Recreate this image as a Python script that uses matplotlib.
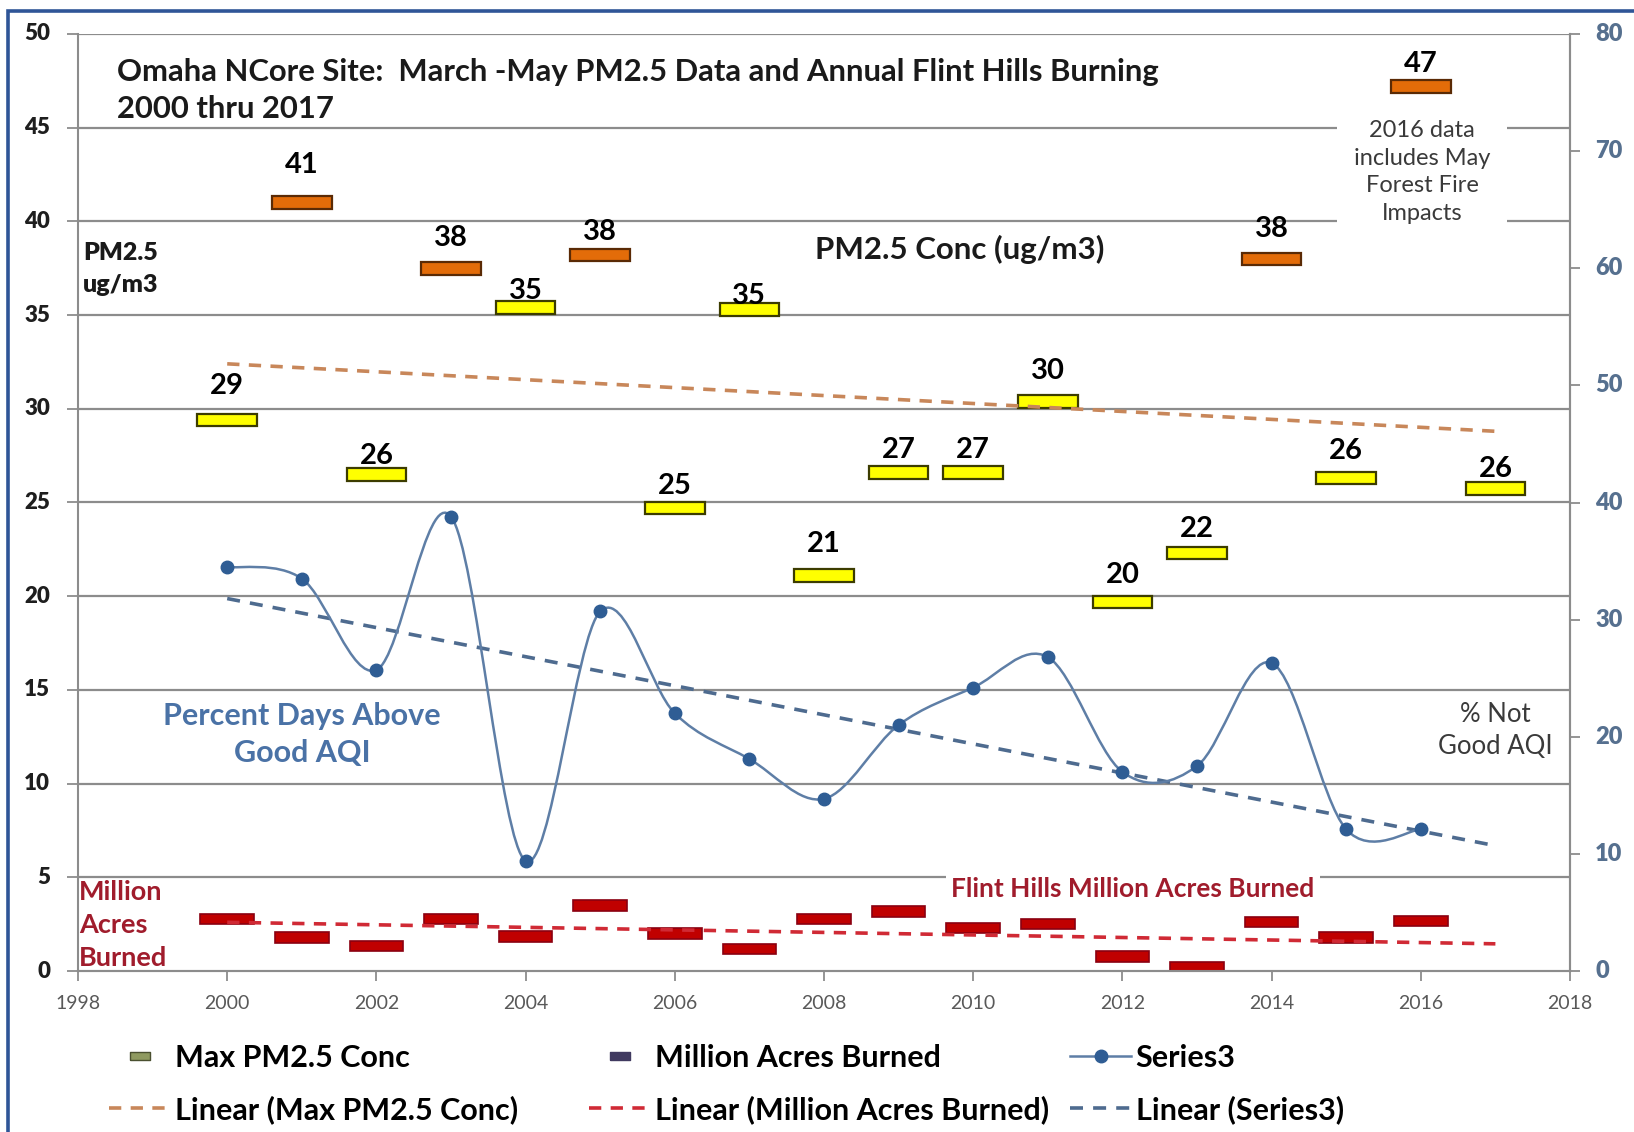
import numpy as np
import matplotlib
matplotlib.use("Agg")
import matplotlib.pyplot as plt
from matplotlib.path import Path
from matplotlib.patches import PathPatch, Rectangle
from matplotlib.lines import Line2D

plt.rcParams['font.family'] = ['Lato', 'DejaVu Sans']

# ---------------- data ----------------
years = list(range(2000, 2018))
max_pm25 = [29.4, 41.0, 26.5, 37.5, 35.4, 38.2, 24.7, 35.3, 21.1, 26.6,
            26.6, 30.4, 19.7, 22.3, 38.0, 26.3, 47.2, 25.75]
max_labels = ['29', '41', '26', '38', '35', '38', '25', '35', '21', '27',
              '27', '30', '20', '22', '38', '26', '47', '26']
high_flag = [False, True, False, True, False, True, False, False, False, False,
             False, False, False, False, True, False, True, False]

acre_years = list(range(2000, 2017))
acres = [2.78, 1.78, 1.33, 2.78, 1.84, 3.5, 2.0, 1.17, 2.78, 3.17,
         2.28, 2.5, 0.78, 0.22, 2.6, 1.78, 2.67]
pct_days = [34.5, 33.5, 25.7, 38.8, 9.4, 30.7, 22.0, 18.1, 14.7, 21.0,
            24.2, 26.8, 17.0, 17.5, 26.3, 12.1, 12.1]

trend_years = [2000, 2017]
max_trend = [32.4, 28.8]
acres_trend = [2.6, 1.45]
pct_trend = [31.8, 10.7]

left_ticks = list(range(0, 51, 5))
right_ticks = list(range(0, 81, 10))
x_ticks = list(range(1998, 2019, 2))

# label offsets (px above marker centre) - layout only
label_dy = [33, 36, 18, 29, 16, 22, 21, 13, 30, 22, 22, 29, 26, 23, 29, 26, 22, 19]

# ---------------- figure ----------------
W, H = 1634, 1132
fig = plt.figure(figsize=(W / 100, H / 100), dpi=100)
fig.patch.set_facecolor('white')

def fx(x):
    return x / W

def fy(y):
    return 1 - y / H

ax = fig.add_axes([fx(78), fy(971), fx(1570) - fx(78), fy(34) - fy(971)])
ax2 = ax.twinx()

GRID = '#8c8c8c'
ax.set_xlim(1998, 2018)
ax.set_ylim(0, 50)
ax2.set_ylim(0, 80)
ax.set_yticks(left_ticks)
ax.set_yticklabels([])
ax2.set_yticks(right_ticks)
ax2.set_yticklabels([])
ax.set_xticks(x_ticks)
for y in left_ticks[1:]:
    ax.axhline(y, color=GRID, lw=1.6, zorder=0.5)

for a in (ax, ax2):
    a.spines['top'].set_visible(False)
    for s in ('left', 'right', 'bottom'):
        a.spines[s].set_color(GRID)
        a.spines[s].set_linewidth(1.5)
ax2.spines['left'].set_visible(False)
ax.tick_params(axis='y', direction='out', length=8, width=1.3, color=GRID)
ax.tick_params(axis='x', direction='out', length=7, width=1.3, color=GRID,
               labelsize=14, labelcolor='#595959', pad=10)
ax2.tick_params(axis='y', direction='out', length=7, width=1.3, color=GRID)

# bold tick labels drawn as annotations at the tick positions
for t in left_ticks:
    ax.annotate(str(t), xy=(0, t), xycoords=('axes fraction', 'data'),
                xytext=(-20, 0), textcoords='offset points', ha='right', va='center',
                fontsize=16, fontweight='heavy', color='#1e1e1e', annotation_clip=False)
for t in right_ticks:
    ax2.annotate(str(t), xy=(1, t), xycoords=('axes fraction', 'data'),
                 xytext=(18, 0), textcoords='offset points', ha='left', va='center',
                 fontsize=17, fontweight='heavy', color='#56708f', annotation_clip=False)

# Max PM2.5 markers (rectangles)
pm_colors = ['#e36c09' if h else '#ffff00' for h in high_flag]
pm_edges = ['#5a2a05' if h else '#3c3c00' for h in high_flag]
mh = 0.67
ax.bar(years, [mh] * len(years), bottom=[v - mh / 2 for v in max_pm25], width=0.8,
       color=pm_colors, edgecolor=pm_edges, linewidth=1.6, zorder=3)
for x, v, lab, dy in zip(years, max_pm25, max_labels, label_dy):
    ax.annotate(lab, (x, v), xytext=(0, dy * 1.042 * 0.72), textcoords='offset points',
                ha='center', va='center', fontsize=21, fontweight='bold', color='black',
                zorder=6)

# Acres markers
ah = 0.55
ax.bar(acre_years, [ah] * len(acre_years), bottom=[v - ah / 2 for v in acres], width=0.72,
       color='#c00000', edgecolor='#8a0010', linewidth=1.2, zorder=3)

# trend lines
ax.plot(trend_years, max_trend, color='#c8875a', lw=2.6, ls=(0, (3.4, 2.6)), zorder=4)
ax.plot(trend_years, acres_trend, color='#d02a35', lw=2.6, ls=(0, (3.4, 2.6)), zorder=4)
ax2.plot(trend_years, pct_trend, color='#4e6b8f', lw=2.6, ls=(0, (3.6, 2.8)), zorder=2)

# Series3 smoothed line (Bezier through points)
P = np.column_stack([acre_years, pct_days]).astype(float)
n = len(P)
verts = [tuple(P[0])]
codes = [Path.MOVETO]
for i in range(n - 1):
    pm1 = P[i - 1] if i > 0 else P[i]
    p2 = P[i + 2] if i + 2 < n else P[i + 1]
    c1 = P[i] + (P[i + 1] - pm1) / 6.0
    c2 = P[i + 1] - (p2 - P[i]) / 6.0
    verts += [tuple(c1), tuple(c2), tuple(P[i + 1])]
    codes += [Path.CURVE4] * 3
ax2.add_patch(PathPatch(Path(verts, codes), fill=False, edgecolor='#5e7ea6', lw=1.8, zorder=3))
ax2.plot(acre_years, pct_days, ls='none', marker='o', ms=9, color='#2f5d94',
         mec='#2f5d94', zorder=4)

# ---------------- text annotations ----------------
fig.text(fx(117), fy(72), 'Omaha NCore Site:  March -May PM2.5 Data and Annual Flint Hills Burning',
         fontsize=22.3, fontweight='bold', color='#1a1a1a', va='center', ha='left')
fig.text(fx(117), fy(109), '2000 thru 2017', fontsize=22.3, fontweight='bold',
         color='#1a1a1a', va='center', ha='left')
fig.text(fx(83), fy(253), 'PM2.5', fontsize=18, fontweight='heavy', color='#1a1a1a',
         va='center', ha='left')
fig.text(fx(83), fy(285), 'ug/m3', fontsize=18, fontweight='heavy', color='#1a1a1a',
         va='center', ha='left')
fig.text(fx(815), fy(249), 'PM2.5 Conc (ug/m3)', fontsize=22.5, fontweight='bold',
         color='#1a1a1a', va='center', ha='left')
fig.text(fx(1422), fy(172), '2016 data\nincludes May\nForest Fire\nImpacts', fontsize=17,
         color='#3a3a3a', va='center', ha='center', linespacing=1.4,
         bbox=dict(facecolor='white', edgecolor='none', pad=12))
fig.text(fx(302), fy(716), 'Percent Days Above', fontsize=22, fontweight='bold',
         color='#4a72a6', va='center', ha='center')
fig.text(fx(302), fy(753), 'Good AQI', fontsize=22, fontweight='bold',
         color='#4a72a6', va='center', ha='center')
fig.text(fx(1495), fy(714), '% Not', fontsize=18.5, color='#3a3a3a', va='center', ha='center')
fig.text(fx(1495), fy(747), 'Good AQI', fontsize=18.5, color='#3a3a3a', va='center', ha='center')
for txt, yy in (('Million', 892), ('Acres', 925), ('Burned', 958)):
    fig.text(fx(79), fy(yy), txt, fontsize=19.5, fontweight='bold', color='#a01c2c',
             va='center', ha='left')
fig.text(fx(1133), fy(889), 'Flint Hills Million Acres Burned', fontsize=19, fontweight='bold',
         color='#a01c2c', va='center', ha='center',
         bbox=dict(facecolor='white', edgecolor='none', pad=4))

# ---------------- legends ----------------
rect_marker = [(-1, -0.4), (1, -0.4), (1, 0.4), (-1, 0.4), (-1, -0.4)]
h_max = Line2D([], [], ls='none', marker=rect_marker, ms=14, mfc='#8f9a60', mec='#4a5030', mew=1)
h_acres = Line2D([], [], ls='none', marker=rect_marker, ms=14, mfc='#403a60', mec='#403a60', mew=1)
h_s3 = Line2D([], [], color='#5e7ea6', lw=1.8, marker='o', ms=9, mfc='#2f5d94', mec='#2f5d94')
h_lmax = Line2D([], [], color='#c8875a', lw=2.6, ls=(0, (3.4, 2.6)))
h_lac = Line2D([], [], color='#d02a35', lw=2.6, ls=(0, (3.4, 2.6)))
h_ls3 = Line2D([], [], color='#4e6b8f', lw=2.6, ls=(0, (3.6, 2.8)))

cols = [
    (109, [h_max, h_lmax], ['Max PM2.5 Conc', 'Linear (Max PM2.5 Conc)']),
    (589, [h_acres, h_lac], ['Million Acres Burned', 'Linear (Million Acres Burned)']),
    (1070, [h_s3, h_ls3], ['Series3', 'Linear (Series3)']),
]
for x0, hs, ls_ in cols:
    fig.legend(hs, ls_, loc='upper left', bbox_to_anchor=(fx(x0), fy(1044)),
               frameon=False, prop={'weight': 'bold', 'size': 22},
               handlelength=2.0, handletextpad=0.15, labelspacing=0.75,
               borderpad=0, borderaxespad=0)

# blue border
fig.add_artist(Rectangle((fx(8), fy(1200)), fx(1800), fy(11) - fy(1200),
                         transform=fig.transFigure, fill=False, edgecolor='#2f5597',
                         lw=2.6, clip_on=False))

fig.savefig('out.png', dpi=100, facecolor='white')
